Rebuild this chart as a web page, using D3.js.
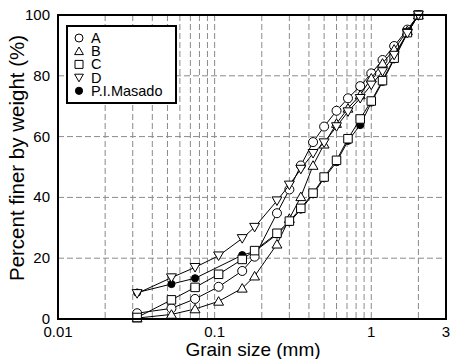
<!DOCTYPE html>
<html>
<head>
<meta charset="utf-8">
<script src="https://cdn.jsdelivr.net/npm/d3@7"></script>
<style>
  body { margin: 0; background: #fff; }
  text { font-family: "Liberation Sans", Arial, sans-serif; fill: #000; }
</style>
</head>
<body>
<svg id="chart" width="450" height="359"></svg>
<script>
// Sieve sizes (mm)
var sizes = [0.032, 0.053, 0.075, 0.106, 0.15, 0.18, 0.25, 0.3, 0.355, 0.425, 0.5, 0.6, 0.71, 0.85, 1.0, 1.18, 1.4, 1.7, 2.0]
var sizes_masado = [0.032, 0.053, 0.075, 0.15, 0.18, 0.25, 0.3, 0.355, 0.425, 0.5, 0.6, 0.71, 0.85, 1.0, 1.18, 1.4, 1.7, 2.0]

// Percent finer by weight
var pass_a = [1.9, 3.5, 6.6, 10.6, 15.8, 20.5, 34.8, 42.6, 50.5, 58.2, 63.3, 68.5, 72.6, 76.6, 80.8, 85.2, 89.8, 95.2, 100]
var pass_b = [0.3, 1.5, 3.3, 5.8, 10.1, 14.1, 24.6, 33.0, 40.2, 50.5, 57.5, 64.3, 69.3, 73.7, 79.2, 84.1, 88.7, 94.8, 100]
var pass_c = [0.5, 6.3, 10.4, 14.7, 19.6, 22.5, 28.2, 32.2, 36.4, 41.4, 46.7, 52.2, 59.3, 65.8, 71.7, 78.4, 85.8, 94.2, 100]
var pass_d = [8.4, 13.6, 17.0, 20.8, 26.5, 30.2, 38.9, 44.1, 49.3, 54.5, 58.0, 63.3, 68.2, 72.6, 77.0, 81.4, 86.8, 94.0, 100]
var pass_masado = [8.7, 11.5, 13.4, 21.0, 22.2, 27.8, 31.8, 36.0, 41.0, 46.3, 51.6, 58.6, 63.8, 71.2, 78.0, 85.4, 94.0, 100]

var series_names = ['A', 'B', 'C', 'D', 'P.I.Masado']
var x_ticks = [0.01, 0.1, 1, 3]
var y_ticks = [0, 20, 40, 60, 80, 100]

var svg = d3.select('#chart')
var plot_l = 58, plot_r = 446, plot_t = 15, plot_b = 319

var x = d3.scaleLog().domain([0.01, 3]).range([plot_l, plot_r])
var y = d3.scaleLinear().domain([0, 100]).range([plot_b, plot_t])

// grid lines
var x_grid = []
;[0.01, 0.1, 1].forEach(dec => {
  for (var k = 1; k <= 9; k++) {
    var v = dec * k
    if (v > 0.0101 && v < 3) x_grid.push(v)
  }
})
svg.append('g').selectAll('line')
  .data(x_grid)
  .join('line')
  .attr('x1', d => x(d)).attr('x2', d => x(d))
  .attr('y1', plot_t).attr('y2', plot_b)
  .attr('stroke', '#8a8a8a')
  .attr('stroke-width', 1)
  .attr('stroke-dasharray', '6,3')

svg.append('g').selectAll('line')
  .data(y_ticks.slice(1, -1))
  .join('line')
  .attr('x1', plot_l).attr('x2', plot_r)
  .attr('y1', d => y(d)).attr('y2', d => y(d))
  .attr('stroke', '#8a8a8a')
  .attr('stroke-width', 1)
  .attr('stroke-dasharray', '6,3')

// marker shapes
function marker_path(kind, s) {
  var h = s / 2
  if (kind == 'square') return 'M' + (-h) + ',' + (-h) + 'h' + s + 'v' + s + 'h' + (-s) + 'Z'
  if (kind == 'tri_up') return 'M0,' + (-h * 1.05) + 'L' + (h * 1.1) + ',' + (h * 0.85) + 'L' + (-h * 1.1) + ',' + (h * 0.85) + 'Z'
  if (kind == 'tri_down') return 'M0,' + (h * 1.05) + 'L' + (h * 1.1) + ',' + (-h * 0.85) + 'L' + (-h * 1.1) + ',' + (-h * 0.85) + 'Z'
  return null
}

function draw_marker(g, kind, cx, cy, s) {
  if (kind == 'circle' || kind == 'dot') {
    g.append('circle')
      .attr('cx', cx).attr('cy', cy)
      .attr('r', kind == 'dot' ? s * 0.4 : s / 2)
      .attr('fill', kind == 'dot' ? '#000' : '#fff')
      .attr('stroke', '#000').attr('stroke-width', 1)
  } else {
    g.append('path')
      .attr('d', marker_path(kind, s))
      .attr('transform', 'translate(' + cx + ',' + cy + ')')
      .attr('fill', '#fff')
      .attr('stroke', '#000').attr('stroke-width', 1)
  }
}

var series = [
  {name: series_names[4], xs: sizes_masado, ys: pass_masado, kind: 'dot'},
  {name: series_names[0], xs: sizes, ys: pass_a, kind: 'circle'},
  {name: series_names[1], xs: sizes, ys: pass_b, kind: 'tri_up'},
  {name: series_names[2], xs: sizes, ys: pass_c, kind: 'square'},
  {name: series_names[3], xs: sizes, ys: pass_d, kind: 'tri_down'}
]

var line = d3.line().x(d => x(d[0])).y(d => y(d[1]))

series.forEach(s => {
  var pts = s.xs.map((v, i) => [v, s.ys[i]])
  var g = svg.append('g')
  g.append('path')
    .attr('d', line(pts))
    .attr('fill', 'none')
    .attr('stroke', '#000')
    .attr('stroke-width', 1)
  pts.forEach(p => draw_marker(g, s.kind, x(p[0]), y(p[1]), s.kind == 'square' ? 8.5 : 9))
})

// frame
svg.append('rect')
  .attr('x', plot_l).attr('y', plot_t)
  .attr('width', plot_r - plot_l).attr('height', plot_b - plot_t)
  .attr('fill', 'none')
  .attr('stroke', '#000')
  .attr('stroke-width', 2)

// tick labels
svg.append('g').selectAll('text')
  .data(y_ticks)
  .join('text')
  .attr('x', 50)
  .attr('y', d => y(d) + 5)
  .attr('text-anchor', 'end')
  .style('font-size', '15px')
  .text(d => d)

svg.append('g').selectAll('text')
  .data(x_ticks)
  .join('text')
  .attr('x', d => x(d))
  .attr('y', 337)
  .attr('text-anchor', 'middle')
  .style('font-size', '15px')
  .text(d => d)

// axis titles
svg.append('text')
  .attr('x', 253)
  .attr('y', 356)
  .attr('text-anchor', 'middle')
  .style('font-size', '19px')
  .text('Grain size (mm)')

svg.append('text')
  .attr('transform', 'translate(24,158) rotate(-90)')
  .attr('text-anchor', 'middle')
  .style('font-size', '20.5px')
  .text('Percent finer by weight (%)')

// legend
var legend = svg.append('g')
legend.append('rect')
  .attr('x', 67).attr('y', 26)
  .attr('width', 109).attr('height', 77)
  .attr('fill', '#fff')
  .attr('stroke', '#000')
  .attr('stroke-width', 2)

var legend_kinds = ['circle', 'tri_up', 'square', 'tri_down', 'dot']
series_names.forEach((name, i) => {
  var ly = 38 + i * 13.2
  draw_marker(legend, legend_kinds[i], 79, ly, legend_kinds[i] == 'dot' ? 9 : 8)
  legend.append('text')
    .attr('x', 91)
    .attr('y', ly + 5)
    .style('font-size', '14.5px')
    .text(name)
})
</script>
</body>
</html>
